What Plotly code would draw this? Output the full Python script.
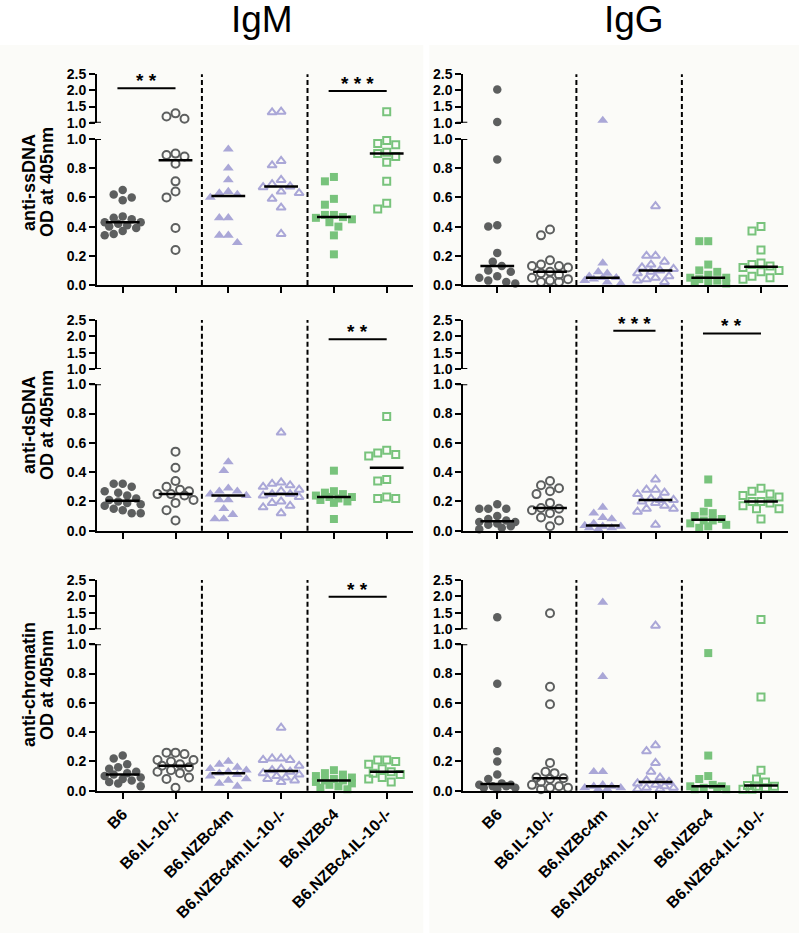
import plotly.graph_objects as go
import numpy as np

W, H = 799, 933

groups = ["B6", "B6.IL-10-/-", "B6.NZBc4m", "B6.NZBc4m.IL-10-/-", "B6.NZBc4", "B6.NZBc4.IL-10-/-"]
col_titles = ["IgM", "IgG"]
row_titles = [("anti-ssDNA", "OD at 405nm"), ("anti-dsDNA", "OD at 405nm"), ("anti-chromatin", "OD at 405nm")]

# ---- data (OD at 405nm), one list per group ----
igm_ssdna = [
    [0.65, 0.62, 0.60, 0.58, 0.47, 0.46, 0.45, 0.43, 0.43, 0.42, 0.41, 0.40, 0.39, 0.37, 0.35, 0.34],
    [1.29, 1.19, 1.12, 0.90, 0.89, 0.88, 0.83, 0.71, 0.64, 0.60, 0.39, 0.24],
    [0.93, 0.80, 0.72, 0.64, 0.63, 0.62, 0.60, 0.46, 0.46, 0.34, 0.34, 0.29],
    [1.34, 1.32, 0.85, 0.82, 0.72, 0.69, 0.675, 0.67, 0.64, 0.63, 0.59, 0.53, 0.35],
    [0.74, 0.71, 0.59, 0.55, 0.48, 0.48, 0.465, 0.46, 0.45, 0.43, 0.40, 0.34, 0.21],
    [1.34, 0.99, 0.97, 0.96, 0.91, 0.90, 0.88, 0.84, 0.71, 0.56, 0.52],
]
igg_ssdna = [
    [2.03, 1.02, 0.86, 0.41, 0.40, 0.22, 0.16, 0.13, 0.10, 0.09, 0.06, 0.05, 0.03, 0.02, 0.01],
    [0.38, 0.34, 0.17, 0.14, 0.13, 0.13, 0.12, 0.09, 0.08, 0.07, 0.05, 0.04, 0.03, 0.02, 0.02],
    [1.07, 0.15, 0.09, 0.08, 0.06, 0.05, 0.05, 0.04, 0.03, 0.02, 0.01],
    [0.54, 0.20, 0.20, 0.16, 0.14, 0.12, 0.11, 0.10, 0.09, 0.08, 0.06, 0.05, 0.04, 0.03, 0.02],
    [0.30, 0.30, 0.14, 0.10, 0.09, 0.07, 0.05, 0.05, 0.04, 0.03, 0.02, 0.02, 0.01],
    [0.40, 0.37, 0.24, 0.15, 0.14, 0.13, 0.12, 0.10, 0.09, 0.06, 0.05, 0.04],
]
igm_dsdna = [
    [0.32, 0.32, 0.30, 0.27, 0.26, 0.24, 0.22, 0.21, 0.20, 0.19, 0.18, 0.17, 0.15, 0.14, 0.12, 0.12],
    [0.54, 0.43, 0.34, 0.30, 0.28, 0.27, 0.25, 0.25, 0.24, 0.21, 0.19, 0.14, 0.07],
    [0.47, 0.41, 0.29, 0.27, 0.27, 0.25, 0.24, 0.21, 0.21, 0.15, 0.11, 0.08, 0.08],
    [0.67, 0.33, 0.32, 0.31, 0.30, 0.28, 0.27, 0.25, 0.25, 0.24, 0.23, 0.20, 0.19, 0.17, 0.16, 0.12],
    [0.41, 0.27, 0.26, 0.25, 0.24, 0.23, 0.23, 0.22, 0.21, 0.20, 0.19, 0.08],
    [0.78, 0.55, 0.53, 0.52, 0.51, 0.35, 0.34, 0.23, 0.22, 0.22],
]
igg_dsdna = [
    [0.18, 0.15, 0.15, 0.15, 0.10, 0.08, 0.07, 0.06, 0.06, 0.05, 0.04, 0.03, 0.02, 0.01],
    [0.34, 0.31, 0.29, 0.27, 0.25, 0.19, 0.155, 0.15, 0.14, 0.12, 0.09, 0.07, 0.03],
    [0.16, 0.12, 0.09, 0.08, 0.05, 0.035, 0.03, 0.03, 0.02, 0.02, 0.01],
    [0.35, 0.28, 0.28, 0.26, 0.25, 0.22, 0.21, 0.21, 0.20, 0.19, 0.17, 0.15, 0.15, 0.13, 0.04],
    [0.35, 0.19, 0.13, 0.12, 0.10, 0.08, 0.07, 0.07, 0.05, 0.04, 0.03, 0.02],
    [0.29, 0.27, 0.25, 0.24, 0.23, 0.20, 0.20, 0.19, 0.17, 0.15, 0.15, 0.08],
]
igm_chromatin = [
    [0.24, 0.22, 0.18, 0.16, 0.15, 0.13, 0.12, 0.11, 0.10, 0.09, 0.08, 0.07, 0.06, 0.05, 0.03],
    [0.26, 0.26, 0.25, 0.21, 0.21, 0.20, 0.18, 0.17, 0.16, 0.14, 0.13, 0.12, 0.09, 0.08, 0.02],
    [0.20, 0.18, 0.16, 0.15, 0.14, 0.13, 0.12, 0.11, 0.10, 0.08, 0.07, 0.05, 0.03],
    [0.43, 0.22, 0.22, 0.21, 0.21, 0.17, 0.15, 0.14, 0.13, 0.12, 0.11, 0.10, 0.09, 0.08, 0.07, 0.06],
    [0.14, 0.12, 0.11, 0.10, 0.09, 0.08, 0.07, 0.07, 0.06, 0.05, 0.04, 0.03, 0.02, 0.01],
    [0.21, 0.21, 0.20, 0.18, 0.15, 0.13, 0.12, 0.11, 0.09, 0.08, 0.06],
]
igg_chromatin = [
    [1.37, 0.73, 0.27, 0.20, 0.11, 0.08, 0.05, 0.04, 0.04, 0.03, 0.03, 0.02, 0.02, 0.01],
    [1.49, 0.71, 0.59, 0.19, 0.13, 0.12, 0.09, 0.085, 0.08, 0.06, 0.04, 0.03, 0.02, 0.02, 0.01],
    [1.82, 0.78, 0.13, 0.13, 0.04, 0.03, 0.03, 0.02, 0.02, 0.01, 0.01],
    [1.11, 0.31, 0.27, 0.19, 0.13, 0.09, 0.07, 0.06, 0.05, 0.04, 0.03, 0.02, 0.02, 0.01, 0.01],
    [0.94, 0.24, 0.10, 0.08, 0.04, 0.03, 0.03, 0.02, 0.02, 0.01, 0.01],
    [1.30, 0.64, 0.14, 0.08, 0.06, 0.035, 0.03, 0.03, 0.02, 0.01, 0.01],
]

# significance comparisons: (start group pos, end group pos, bar height, label)
sig_igm_ssdna = [(-0.1, 1.0, 2.07, "* *"), (3.9, 5.0, 1.98, "* * *")]
sig_igm_dsdna = [(3.9, 5.0, 1.91, "* *")]
sig_igm_chromatin = [(3.9, 5.0, 1.99, "* *")]
sig_igg_dsdna = [(2.2, 3.0, 2.17, "* * *"), (3.9, 5.0, 2.09, "* *")]

panels = [  # (row, col, data, sig)
    (0, 0, igm_ssdna, sig_igm_ssdna),
    (0, 1, igg_ssdna, []),
    (1, 0, igm_dsdna, sig_igm_dsdna),
    (1, 1, igg_dsdna, sig_igg_dsdna),
    (2, 0, igm_chromatin, sig_igm_chromatin),
    (2, 1, igg_chromatin, []),
]

# ---- styles ----
GRAY, LAV, GREEN = "#5d5f5f", "#aaa7d7", "#78c37c"
colors = [GRAY, GRAY, LAV, LAV, GREEN, GREEN]
symbols = ["circle", "circle-open", "triangle-up", "triangle-up-open", "square", "square-open"]
msizes = [8.5, 8, 9.5, 8, 8, 7]
FONT = "Liberation Sans, Arial, sans-serif"
TITLE_FONT = "Liberation Sans Narrow, Arial Narrow, Liberation Sans, Arial, sans-serif"

# layout geometry in page pixels
col_x = [(97, 413, -0.487, 5.498), (463.3, 788, -0.644, 5.512)]
row_y = [(285, 139, 122.7, 74.3), (530.7, 384.3, 369, 320), (790.7, 644.3, 629.3, 580)]
label_y = [182, 425, 685]


def pxx(p):
    return p / W


def pxy(p):
    return 1 - p / H


def swarm(vals, ypu, xpu, d=9.0, maxw=22.0):
    pts = []
    offs = [0.0] * len(vals)
    order = sorted(range(len(vals)), key=lambda i: -vals[i])
    cands = [0.0]
    k = 1
    while k * d / 2 <= maxw:
        cands += [-k * d / 2, k * d / 2]
        k += 1
    for i in order:
        y = vals[i] * ypu
        best, bestd = None, -1
        for c in cands:
            md = min([((c - px) ** 2 + (y - py) ** 2) ** 0.5 for px, py in pts] or [1e9])
            if md >= d - 1e-6:
                best = c
                break
            if md > bestd:
                best, bestd = c, md
        offs[i] = best / xpu
        pts.append((best, y))
    return offs


fig = go.Figure()
layout = dict(width=W, height=H, margin=dict(l=0, r=0, t=0, b=0, pad=0, autoexpand=False),
              template="none",
              paper_bgcolor="white", plot_bgcolor="rgba(0,0,0,0)",
              showlegend=False, shapes=[], annotations=[],
              font=dict(family=FONT, color="black"))

# panel backgrounds
for x0, x1 in [(0, 423.3), (429.3, 799)]:
    layout["shapes"].append(dict(type="rect", xref="paper", yref="paper", x0=pxx(x0), x1=pxx(x1),
                                 y0=0, y1=pxy(45), fillcolor="#fbfbf8", line=dict(width=0), layer="below"))

for p, (r, c, data, sig) in enumerate(panels):
    xi = "" if p == 0 else str(p + 1)
    ylo_i, yhi_i = str(2 * p + 1) if p else "", str(2 * p + 2)
    xref, ylo, yhi = "x" + xi, "y" + ylo_i, "y" + yhi_i
    xl, xr, rx0, rx1 = col_x[c]
    b0, t0, b1, t1 = row_y[r]
    xpu = (xr - xl) / (rx1 - rx0)
    ypu_lo = b0 - t0
    ypu_hi = (b1 - t1) / 1.5

    layout["xaxis" + xi] = dict(domain=[pxx(xl), pxx(xr)], range=[rx0, rx1], anchor=ylo,
                                automargin=False,
                                tickvals=list(range(6)), ticktext=groups if r == 2 else [""] * 6,
                                ticks="outside", ticklen=6, tickwidth=2, tickcolor="black",
                                showline=True, linewidth=2, linecolor="black",
                                showgrid=False, zeroline=False, tickangle=-45,
                                tickfont=dict(size=16, family=FONT, weight="bold", color="black"))
    tick_common = dict(ticks="outside", ticklen=6, tickwidth=2, tickcolor="black",
                       showline=True, linewidth=2, linecolor="black", showgrid=False,
                       zeroline=False, anchor=xref, automargin=False,
                       tickfont=dict(size=14, family=FONT, weight="bold", color="black"))
    lo_vals = [0, 0.2, 0.4, 0.6, 0.8, 1.0]
    hi_vals = [1.0, 1.5, 2.0, 2.5]
    layout["yaxis" + ylo_i] = dict(domain=[pxy(b0), pxy(t0)], range=[0, 1],
                                   tickvals=lo_vals, ticktext=[f"{v:.1f}" for v in lo_vals], **tick_common)
    layout["yaxis" + yhi_i] = dict(domain=[pxy(b1), pxy(t1)], range=[1, 2.5],
                                   tickvals=hi_vals, ticktext=[f"{v:.1f}" for v in hi_vals], **tick_common)

    # axis-break marks
    for yr in (ylo, yhi):
        layout["shapes"].append(dict(type="line", xref=xref + " domain", xsizemode="pixel", xanchor=0,
                                     x0=-7, x1=4, yref=yr, y0=1, y1=1,
                                     line=dict(color="black", width=2)))
    # dashed separators
    for xs in (1.5, 3.5):
        layout["shapes"].append(dict(type="line", xref=xref, x0=xs, x1=xs, yref="paper",
                                     y0=pxy(b0), y1=pxy(t1),
                                     line=dict(color="black", width=2, dash="5px,3px")))

    for g, vals in enumerate(data):
        lo = [v for v in vals if v <= 1.0]
        hi = [v for v in vals if v > 1.0]
        sym = symbols[g]
        is_open = sym.endswith("open")
        mk = dict(symbol=sym, size=msizes[g], color=colors[g],
                  line=dict(width=2 if is_open else 0, color=colors[g]))
        if lo:
            off = swarm(lo, ypu_lo, xpu)
            fig.add_trace(go.Scatter(x=[g + o for o in off], y=lo, mode="markers", marker=mk,
                                     xaxis=xref, yaxis=ylo, cliponaxis=False, hoverinfo="y"))
        if hi:
            off = swarm(hi, ypu_hi, xpu)
            fig.add_trace(go.Scatter(x=[g + o for o in off], y=hi, mode="markers", marker=mk,
                                     xaxis=xref, yaxis=yhi, cliponaxis=False, hoverinfo="y"))
    # medians on top
    for g, vals in enumerate(data):
        med = float(np.median(vals))
        fig.add_trace(go.Scatter(x=[g - 0.32, g + 0.32], y=[med, med], mode="lines",
                                 line=dict(color="black", width=2.5),
                                 xaxis=xref, yaxis=ylo, cliponaxis=False, hoverinfo="skip"))

    # significance bars
    for (s0, s1, sy, lab) in sig:
        layout["shapes"].append(dict(type="line", xref=xref, x0=s0, x1=s1, yref=yhi, y0=sy, y1=sy,
                                     line=dict(color="black", width=2)))
        layout["annotations"].append(dict(x=(s0 + s1) / 2, y=sy, xref=xref, yref=yhi, text=lab,
                                          showarrow=False, yanchor="bottom", yshift=-5,
                                          font=dict(size=19, family=FONT, weight="bold", color="black")))

# column titles
for c, t in enumerate(col_titles):
    layout["annotations"].append(dict(x=pxx([262, 634][c]), y=pxy(42), xref="paper", yref="paper",
                                      text=t, showarrow=False, xanchor="center", yanchor="bottom",
                                      font=dict(size=37, family=TITLE_FONT, color="black")))
# row (y-axis) titles
for r, (l1, l2) in enumerate(row_titles):
    for xpx, t in ((29, l1), (47, l2)):
        layout["annotations"].append(dict(x=pxx(xpx), y=pxy(label_y[r]), xref="paper", yref="paper",
                                          text=t, showarrow=False, textangle=-90,
                                          xanchor="center", yanchor="middle",
                                          font=dict(size=18, family=FONT, weight="bold", color="black")))

fig.update_layout(**layout)
fig.write_html("out.html", config={"displayModeBar": False, "staticPlot": True},
               post_script="document.body.style.margin='0';document.body.style.overflow='hidden';")
